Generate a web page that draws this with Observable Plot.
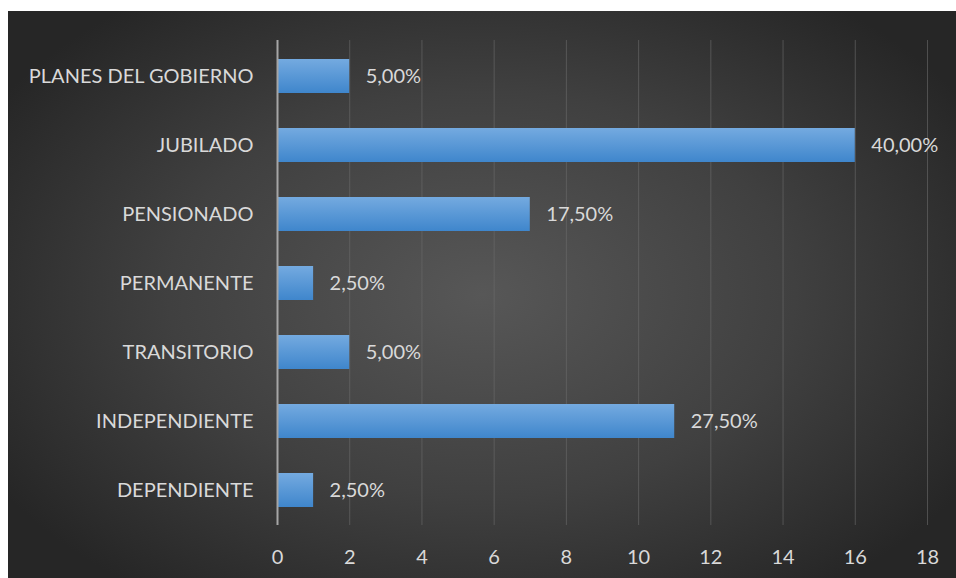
<!DOCTYPE html>
<html>
<head>
<meta charset="utf-8">
<script src="https://cdn.jsdelivr.net/npm/d3@7"></script>
<script src="https://cdn.jsdelivr.net/npm/@observablehq/plot@0.6"></script>
<style>
  html, body { margin: 0; padding: 0; background: #ffffff; }
  #chart { position: absolute; left: 8px; top: 11px; width: 948px; height: 567px;
    background: radial-gradient(ellipse 60% 65% at 50% 50%, #575757 0%, #404040 55%, #262626 100%); }
  svg { font-family: Lato, "Open Sans", sans-serif; }
</style>
</head>
<body>
<div id="chart"></div>
<script>
const categories = ["PLANES DEL GOBIERNO", "JUBILADO", "PENSIONADO", "PERMANENTE", "TRANSITORIO", "INDEPENDIENTE", "DEPENDIENTE"];
const counts = [2, 16, 7, 1, 2, 11, 1];
const percentLabels = ["5,00%", "40,00%", "17,50%", "2,50%", "5,00%", "27,50%", "2,50%"];
const xTicks = [0, 2, 4, 6, 8, 10, 12, 14, 16, 18];

const data = categories.map((c, i) => ({category: c, value: counts[i], label: percentLabels[i]}));

const chart = Plot.plot({
  width: 948,
  height: 567,
  marginLeft: 269,
  marginRight: 29,
  marginTop: 29,
  marginBottom: 53,
  style: {background: "transparent", color: "#d9d9d9", fontSize: "20px", fontFamily: "Lato, 'Open Sans', sans-serif"},
  x: {domain: [0, 18], ticks: xTicks, label: null},
  y: {domain: categories, paddingInner: 0.51, paddingOuter: 0.255, label: null},
  marks: [
    Plot.ruleX(xTicks.filter(t => t > 0), {stroke: "#6a6a6a", strokeOpacity: 0.6, strokeWidth: 1}),
    Plot.barX(data, {x: "value", y: "category", fill: "url(#barGrad)", style: "filter: drop-shadow(2px 4px 3px rgba(0,0,0,0.55))"}),
    Plot.ruleX([0], {stroke: "#a6a6a6", strokeWidth: 2}),
    Plot.text(data, {x: "value", y: "category", text: "label", textAnchor: "start", dx: 16, fill: "#d9d9d9", fontSize: 20}),
    Plot.axisX({ticks: xTicks, tickSize: 0, tickPadding: 24, fontSize: 20, fill: "#d9d9d9", label: null}),
    Plot.axisY({tickSize: 0, tickPadding: 24, fontSize: 20, fill: "#d9d9d9", label: null})
  ]
});

const svg = d3.select(chart);
const defs = svg.insert("defs", ":first-child");
const g = defs.append("linearGradient").attr("id", "barGrad").attr("x1", 0).attr("y1", 0).attr("x2", 0).attr("y2", 1);
g.append("stop").attr("offset", "0%").attr("stop-color", "#74aae0");
g.append("stop").attr("offset", "100%").attr("stop-color", "#3f86cc");

document.getElementById("chart").appendChild(chart);
</script>
</body>
</html>
